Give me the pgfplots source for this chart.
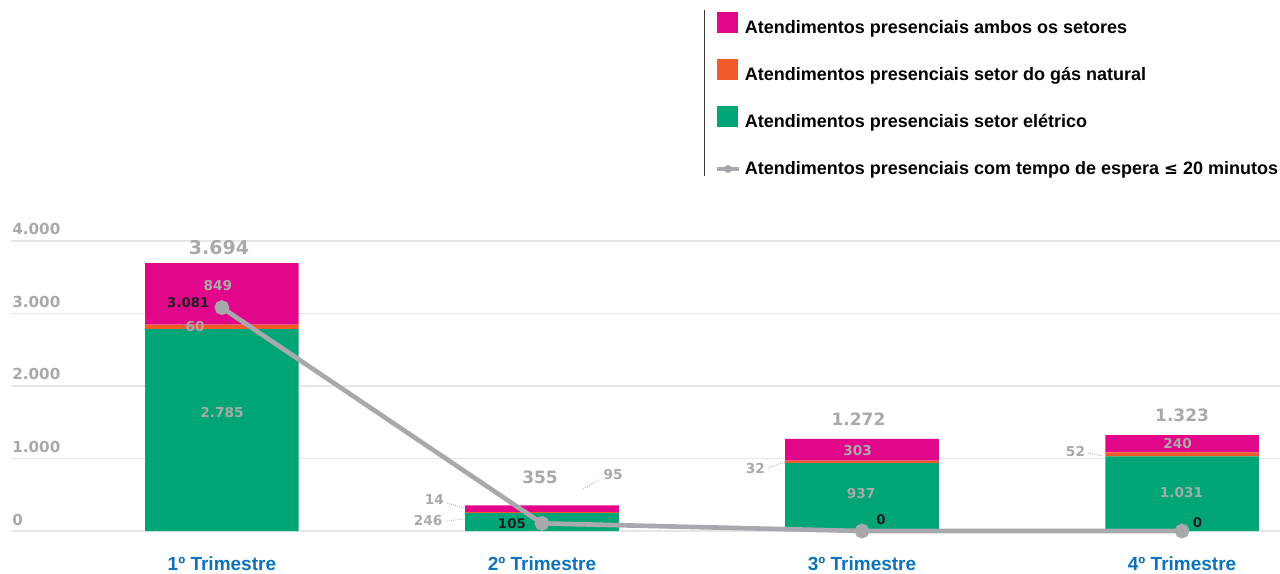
\documentclass[border=0pt]{standalone}
\usepackage{pgfplots}
\pgfplotsset{compat=1.18}
\usepackage{fontspec}
\setmainfont{Liberation Sans}
\newfontfamily\numfont{DejaVu Sans}
\definecolor{cpink}{HTML}{E2078A}
\definecolor{corange}{HTML}{F15A29}
\definecolor{cgreen}{HTML}{00A575}
\definecolor{cline}{HTML}{A7A9AC}
\definecolor{clabel}{HTML}{A9A9A9}
\definecolor{cgrid}{HTML}{E6E6E6}
\definecolor{cdark}{HTML}{231F20}
\definecolor{cblue}{HTML}{0B72BC}
\definecolor{cvline}{HTML}{3A3A3A}
\tikzset{
  lab/.style={font=\numfont\bfseries\fontsize{10.25pt}{12pt}\selectfont, text=clabel, inner sep=0pt, anchor=center},
  dlab/.style={font=\numfont\bfseries\fontsize{10pt}{12pt}\selectfont, text=cdark, inner sep=0pt, anchor=center},
  tlab/.style={font=\numfont\bfseries\fontsize{12.75pt}{14pt}\selectfont, text=clabel, inner sep=0pt, anchor=center},
  conn/.style={clabel, densely dotted, line width=0.6pt},
}
\pgfplotsset{
  frame/.style={at={(8.25pt,32.25pt)}, anchor=south west,
  scale only axis, width=951.75pt, height=217.5pt,
  xmin=-0.659, xmax=3.306, ymin=0, ymax=4000, clip=false},
}
\begin{document}
\begin{tikzpicture}
\useasboundingbox (0,0) rectangle (960pt,430.5pt);
\begin{axis}[
  frame,
  axis line style={draw=none},
  major tick length=0pt,
  ymajorgrids, grid style={cgrid, line width=0.9pt},
  ytick={0,1000,2000,3000,4000},
  yticklabels={0,1.000,2.000,3.000,4.000},
  yticklabel style={font=\numfont\bfseries\fontsize{11.4pt}{13pt}\selectfont, text=clabel, anchor=base west, inner sep=0pt, xshift=0.75pt, yshift=4.5pt},
  xtick={0,1,2,3},
  xticklabels={1º Trimestre,2º Trimestre,3º Trimestre,4º Trimestre},
  xticklabel style={font=\bfseries\fontsize{14.25pt}{16pt}\selectfont, text=cblue, anchor=base, inner sep=0pt, yshift=-29.25pt},
  ybar stacked, bar width=0.48,
  legend cell align=left,
  legend style={at={(axis description cs:0.5563,1.7598)}, anchor=north west, draw=none, fill=none,
    inner sep=0pt, outer sep=0pt, row sep=22.25pt, column sep=5.25pt,
    font=\bfseries\fontsize{13.5pt}{16pt}\selectfont,
    nodes={inner sep=0pt, text height=10pt, text depth=3pt}},
]
\addplot[fill=cgreen, draw=none, forget plot] coordinates {(0,2785) (1,246) (2,937) (3,1031)};
\addplot[fill=corange, draw=none, forget plot] coordinates {(0,60) (1,14) (2,32) (3,52)};
\addplot[fill=cpink, draw=none, forget plot] coordinates {(0,849) (1,95) (2,303) (3,240)};

\addlegendimage{legend image code/.code={\path[draw=none,fill=none] (0,-6.5pt) rectangle (15.75pt,6.5pt); \fill[cpink, draw=none, overlay] (0,-2.75pt) rectangle (15.75pt,13pt);}}
\addlegendentry{Atendimentos presenciais ambos os setores}
\addlegendimage{legend image code/.code={\path[draw=none,fill=none] (0,-6.5pt) rectangle (15.75pt,6.5pt); \fill[corange, draw=none, overlay] (0,-2.75pt) rectangle (15.75pt,13pt);}}
\addlegendentry{Atendimentos presenciais setor do gás natural}
\addlegendimage{legend image code/.code={\path[draw=none,fill=none] (0,-6.5pt) rectangle (15.75pt,6.5pt); \fill[cgreen, draw=none, overlay] (0,-2.75pt) rectangle (15.75pt,13pt);}}
\addlegendentry{Atendimentos presenciais setor elétrico}
\addlegendimage{legend image code/.code={\path[draw=none,fill=none] (0,-6.5pt) rectangle (15.75pt,6.5pt); \draw[cline, line width=2.5pt, overlay] (0,1pt) -- (16.5pt,1pt); \fill[cline, draw=none, overlay] (8.25pt,1pt) circle (3pt);}}
\addlegendentry{Atendimentos presenciais com tempo de espera \fontspec{DejaVu Sans}\bfseries\fontsize{12.5pt}{16pt}\selectfont≤\fontspec{Liberation Sans}\bfseries\fontsize{13.5pt}{16pt}\selectfont{} 20 minutos}

% legend separator
\draw[cvline, line width=0.8pt] (axis description cs:0.5465,1.7966) -- (axis description cs:0.5465,1.2241);
\end{axis}
\begin{axis}[frame, hide axis]
\addplot[sharp plot, cline, line width=3.5pt, mark=*, mark size=3.75pt,
  mark options={fill=cline, draw=none}] coordinates {(0,3081) (1,105) (2,0) (3,0)};
% anchor coordinates for labels
\coordinate (a1) at (axis cs:-0.009,3903);
\coordinate (a2) at (axis cs:-0.0125,3379);
\coordinate (a3) at (axis cs:-0.084,2814);
\coordinate (a4) at (axis cs:0,1628);
\coordinate (a5) at (axis cs:-0.105,3145);
\coordinate (b1) at (axis cs:0.994,745);
\coordinate (b2) at (axis cs:1.222,779);
\coordinate (b3) at (axis cs:0.664,441);
\coordinate (b4) at (axis cs:0.644,145);
\coordinate (b5) at (axis cs:0.906,103);
\coordinate (b6) at (axis cs:0.703,386);
\coordinate (b7) at (axis cs:0.759,317);
\coordinate (b8) at (axis cs:0.703,138);
\coordinate (b9) at (axis cs:0.759,166);
\coordinate (b10) at (axis cs:1.178,703);
\coordinate (b11) at (axis cs:1.128,579);
\coordinate (c1) at (axis cs:1.989,1538);
\coordinate (c2) at (axis cs:1.986,1110);
\coordinate (c3) at (axis cs:1.997,510);
\coordinate (c4) at (axis cs:2.059,159);
\coordinate (c5) at (axis cs:1.667,855);
\coordinate (c6) at (axis cs:1.706,869);
\coordinate (c7) at (axis cs:1.759,952);
\coordinate (d1) at (axis cs:3.0,1593);
\coordinate (d2) at (axis cs:2.986,1207);
\coordinate (d3) at (axis cs:2.998,531);
\coordinate (d4) at (axis cs:3.048,110);
\coordinate (d5) at (axis cs:2.667,1090);
\coordinate (d6) at (axis cs:2.706,1076);
\coordinate (d7) at (axis cs:2.753,1034);
\end{axis}
% value labels (on top of bars)
\node[tlab, font=\numfont\bfseries\fontsize{14.25pt}{16pt}\selectfont] at (a1) {3.694};
\node[lab] at (a2) {849};
\node[lab] at (a3) {60};
\node[lab] at (a4) {2.785};
\node[dlab] at (a5) {3.081};
\node[tlab] at (b1) {355};
\node[lab] at (b2) {95};
\node[lab] at (b3) {14};
\node[lab] at (b4) {246};
\node[dlab] at (b5) {105};
\draw[conn] (b6) -- (b7);
\draw[conn] (b8) -- (b9);
\draw[conn] (b10) -- (b11);
\node[tlab] at (c1) {1.272};
\node[lab] at (c2) {303};
\node[lab] at (c3) {937};
\node[dlab] at (c4) {0};
\node[lab] at (c5) {32};
\draw[conn] (c6) -- (c7);
\node[tlab] at (d1) {1.323};
\node[lab] at (d2) {240};
\node[lab] at (d3) {1.031};
\node[dlab] at (d4) {0};
\node[lab] at (d5) {52};
\draw[conn] (d6) -- (d7);
\end{tikzpicture}
\end{document}
